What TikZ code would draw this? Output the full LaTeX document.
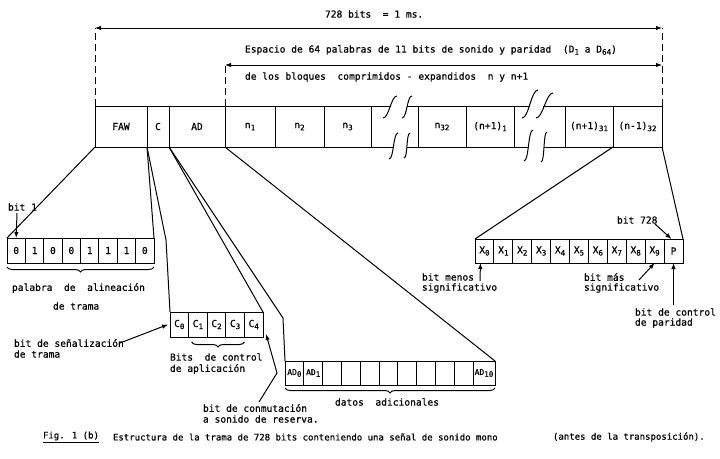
\documentclass[tikz,border=0pt]{standalone}
\usepackage{fontspec}
\setmainfont{DejaVu Sans Mono}[FakeBold=0.6]
\usetikzlibrary{arrows.meta,decorations.pathreplacing}
\newcommand{\sbs}[1]{\raisebox{-0.4ex}{\fontsize{7.5}{8}\selectfont #1}}
\begin{document}
\begin{tikzpicture}[x=1pt,y=-1pt,
  every node/.style={font=\fontsize{9.6}{11}\selectfont, inner sep=0pt, outer sep=0pt},
  cell/.style={draw, line width=1pt, minimum height=41pt, anchor=north west},
  bitc/.style={draw, line width=1pt, anchor=north west, minimum height=25pt},
  lbl/.style={anchor=west},
  ln/.style={line width=1pt},
  arr/.style={line width=1pt, -{Latex[length=6pt,width=4.5pt]}},
  darr/.style={line width=1pt, {Latex[length=6pt,width=4.5pt]}-{Latex[length=6pt,width=4.5pt]}},
  dsh/.style={line width=1pt, dash pattern=on 7pt off 4pt},
  brc/.style={line width=1pt, decorate, decoration={brace, mirror, amplitude=5pt}}
]
\useasboundingbox (0,0) rectangle (720,458);
% top row
\node[cell, minimum width=52pt] (faw) at (95,106) {FAW};
\node[cell, minimum width=22pt] (c) at (147,106) {C};
\node[cell, minimum width=56pt] (ad) at (169,106) {AD};
\node[cell, minimum width=50pt] (n1) at (225,106) {n\sbs{1}};
\node[cell, minimum width=49pt] (n2) at (275,106) {n\sbs{2}};
\node[cell, minimum width=47pt] (n3) at (324,106) {n\sbs{3}};
\node[cell, minimum width=48pt] (n32) at (418,106) {n\sbs{32}};
\node[cell, minimum width=48pt] (np1) at (466,106) {(n+1)\sbs{1}};
\node[cell, minimum width=48pt] (np31) at (565,106) {(n+1)\sbs{31}};
\node[cell, minimum width=49pt] (nm32) at (613,106) {(n-1)\sbs{32}};
% breaks
\draw[ln] (n3.north east) -- (391,106) (407,106) -- (n32.north west);
\draw[ln] (n3.south east) -- (393,147) (407,147) -- (n32.south west);
\draw[ln] (np1.north east) -- (529,106) (543,106) -- (np31.north west);
\draw[ln] (np1.south east) -- (528,147) (544,147) -- (np31.south west);
\draw[ln] (383,118) .. controls +(6,0) and +(-6,0) .. (397,96);
\draw[ln] (402,118) .. controls +(5,0) and +(-5,0) .. (412,96);
\draw[ln] (389,159) .. controls +(5,0) and +(-5,0) .. (398,133);
\draw[ln] (404,158) .. controls +(4,0) and +(-4,0) .. (410,133);
\draw[ln] (522,118) .. controls +(7,0) and +(-7,0) .. (538,90);
\draw[ln] (536,118) .. controls +(7,0) and +(-7,0) .. (553,93);
\draw[ln] (524,161) .. controls +(5,0) and +(-5,0) .. (533,130);
\draw[ln] (541,162) .. controls +(4,0) and +(-4,0) .. (547,132);
% top dimension arrows
\coordinate (oL) at (95,28);
\coordinate (oR) at (662,28);
\coordinate (iL) at (225,65);
\coordinate (iR) at (662,65);
\draw[dsh] (faw.north west) -- (oL);
\draw[dsh] (nm32.north east) -- (oR);
\draw[dsh] (n1.north west) -- (iL);
\draw[darr] (oL) -- (oR);
\draw[darr] (iL) -- (iR);
\node[lbl] (t1) at (325,14) {728 bits\ \ = 1 ms.};
\node[lbl] (t2) at (245,50) {Espacio de 64 palabras de 11 bits de sonido y paridad\ \ (D\sbs{1} a D\sbs{64})};
\node[lbl] (t3) at (245,77) {de los bloques\ \ comprimidos - expandidos\ \ n y n+1};
% FAW bits
\foreach \v [count=\i] in {0,1,0,0,1,1,1,0}
  \node[bitc, minimum width=18.375pt] (f\i) at ({7+(\i-1)*18.375},238) {\v};
% C bits
\foreach \i in {0,...,4}
  \node[bitc, minimum width=18.6pt] (c\i) at ({170+\i*18.6},312) {C\sbs{\i}};
% AD bits
\node[bitc, minimum width=18.8pt, minimum height=24pt, font=\fontsize{8}{9}\selectfont] (a0) at (285,361) {AD\sbs{0}};
\node[bitc, minimum width=18.8pt, minimum height=24pt, font=\fontsize{8}{9}\selectfont] (a1) at (303.8,361) {AD\sbs{1}};
\foreach \i in {2,...,9}
  \node[bitc, minimum width=18.8pt, minimum height=24pt] (a\i) at ({285+\i*18.8},361) {};
\node[bitc, minimum width=22pt, minimum height=24pt, font=\fontsize{8}{9}\selectfont] (a10) at (473,361) {AD\sbs{10}};
% X bits
\foreach \i in {0,...,9}
  \node[bitc, minimum width=18.9pt, minimum height=24pt] (x\i) at ({475+\i*18.9},239) {X\sbs{\i}};
\node[bitc, minimum width=19pt, minimum height=24pt] (p) at (664,239) {P};
% expansion lines
\coordinate (cb) at (166,240);
\coordinate (ab) at (283,318);
\draw[ln] (faw.south west) -- (f1.north west);
\draw[ln] (faw.south east) -- (f8.north east);
\draw[ln] (c.south west) -- (cb) -- (c0.north west);
\draw[ln] (c.south east) -- (c4.north east);
\draw[ln] (ad.south west) -- (ab) -- (a0.north west);
\draw[ln] (ad.south east) -- (a10.north east);
\draw[ln] (np31.south east) -- (x0.north west);
\draw[ln] (nm32.south east) -- (p.north east);
% braces
\draw[brc] ([yshift=-4pt]f1.south west) -- ([yshift=-4pt]f8.south east);
\draw[brc] ([xshift=3pt,yshift=-5pt]c1.south west) -- ([xshift=0pt,yshift=-5pt]c3.south east);
\draw[brc] ([yshift=-3pt]a0.south west) -- ([yshift=-3pt]a10.south east);
% labels
\node[lbl] (b1) at (8,207) {bit 1};
\node[lbl] (pal) at (12,288) {palabra\ \ de\ \ alineación};
\node[lbl] (pal2) at (53,306) {de trama};
\node[lbl] (sen) at (14,343) {bit de señalización};
\node[lbl] (sen2) at (14,354) {de trama};
\node[lbl] (bc) at (170,357) {Bits\ \ de control};
\node[lbl] (bc2) at (170,369) {de aplicación};
\node[lbl] (con) at (203,408) {bit de conmutación};
\node[lbl] (con2) at (203,419) {a sonido de reserva.};
\node[lbl] (dat) at (335,402) {datos\ \ adicionales};
\node[lbl] (b728) at (617,220) {bit 728};
\node[lbl] (men) at (422,277) {bit menos};
\node[lbl] (men2) at (422,288) {significativo};
\node[lbl] (mas) at (584,277) {bit más};
\node[lbl] (mas2) at (584,288) {significativo};
\node[lbl] (ctl) at (635,312) {bit de control};
\node[lbl] (ctl2) at (635,323) {de paridad};
% arrows
\coordinate (b1t) at (17,213);
\coordinate (b728t) at (655,224);
\coordinate (ment) at (480,281);
\coordinate (mast) at (639,280);
\coordinate (ctlt) at (673.5,305);
\coordinate (sent) at (120,343);
\coordinate (cont) at (259,402);
\coordinate (conk) at (277,373);
\draw[arr] (b1t) -- (f1.north);
\draw[arr] (b728t) -- ([xshift=-2pt]p.north);
\draw[arr] (ment) -- ([xshift=-4pt]x0.south);
\draw[arr] (mast) -- (x9.south);
\draw[arr] (ctlt) -- (p.south);
\draw[arr] (sent) -- ([xshift=-2pt]c0.west);
\draw[arr] (cont) -- (conk) -- ([xshift=3pt,yshift=3pt]c4.south east);
% caption
\node[lbl, font=\fontsize{9}{11}\selectfont] (fig) at (43,437) {\underline{Fig. 1 (b)}};
\node[lbl, font=\fontsize{9}{11}\selectfont] (cap) at (113,437) {Estructura de la trama de 728 bits conteniendo una señal de sonido mono};
\node[lbl, font=\fontsize{9}{11}\selectfont] (cap2) at (553,437) {(antes de la transposición).};
\end{tikzpicture}
\end{document}
